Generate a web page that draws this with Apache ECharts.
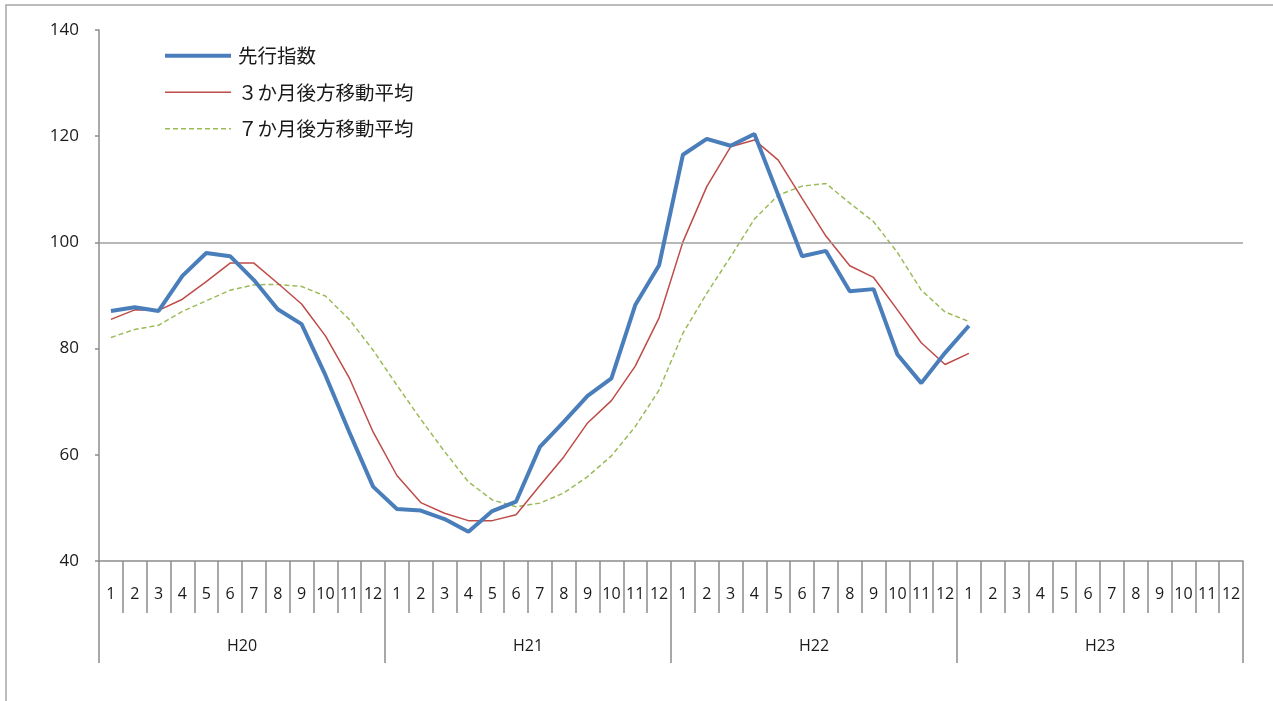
<!DOCTYPE html>
<html><head><meta charset="utf-8">
<script src="https://cdn.jsdelivr.net/npm/echarts@6/dist/echarts.min.js"></script>
<style>html,body{margin:0;padding:0;background:#fff}#c{width:1273px;height:701px}</style>
</head><body><div id="c"></div>
<script>
const months = ['1','2','3','4','5','6','7','8','9','10','11','12'];
const years = ['H20','H21','H22','H23'];
const seriesNames = ['先行指数','３か月後方移動平均','７か月後方移動平均'];
const leading = [87.1,87.8,87.1,93.7,98.0,97.4,92.9,87.4,84.6,75.0,64.3,54.0,
  49.8,49.5,47.9,45.5,49.4,51.2,61.5,66.2,71.1,74.4,88.2,95.7,
  116.5,119.5,118.2,120.4,108.9,97.4,98.4,90.8,91.2,78.9,73.5,79.2,
  84.3];
const ma3 = [85.5,87.3,87.2,89.3,92.6,96.1,96.1,92.3,88.4,82.4,74.5,64.3,
  56.1,51.0,49.0,47.6,47.6,48.7,54.2,59.6,66.0,70.2,76.7,85.8,
  100.1,110.5,118.0,119.3,115.5,108.3,101.2,95.6,93.4,87.3,81.1,77.0,
  79.1];
const ma7 = [82.1,83.6,84.4,87.0,89.0,91.0,92.0,92.1,91.7,89.9,85.5,79.7,
  73.1,66.7,60.6,54.9,51.5,50.2,50.9,52.8,55.9,59.8,65.3,72.2,
  82.9,90.4,97.3,104.4,108.9,110.6,111.1,107.4,103.9,98.1,91.0,86.9,
  85.1];
const yTicks = {min:40, max:140, interval:20};
const refLine = 100;

const cats = [];
years.forEach(y => months.forEach(m => cats.push(y + '-' + m)));
const pad = a => a.concat(new Array(cats.length - a.length).fill(null));

const colors = ['#4a7ebb','#be4b48','#9bbb59'];
const widths = [4,1.5,1.5];
const dashes = ['solid','solid',[5,3]];

const chart = echarts.init(document.getElementById('c'));
const axisGray = '#8c8c8c';
const txt = '#1a1a1a';
chart.setOption({
  animation:false,
  backgroundColor:'#fff',
  graphic:[{type:'rect',shape:{x:6,y:5,width:1400,height:900},style:{fill:'none',stroke:'#a6a6a6',lineWidth:1.5},silent:true}],
  grid:{left:99,right:30,top:30,bottom:140},
  legend:{
    orient:'vertical',left:163,top:46,padding:0,itemWidth:66,itemHeight:14,itemGap:17,
    itemStyle:{opacity:0},
    textStyle:{fontFamily:'Noto Sans CJK JP',fontSize:19.5,color:txt,padding:[0,0,0,2]},
    data:seriesNames.map((n,i)=>({name:n,lineStyle:{width:widths[i],color:colors[i],type:dashes[i]}}))
  },
  xAxis:[{
    type:'category',data:cats,position:'bottom',
    axisLine:{lineStyle:{color:axisGray,width:1.5}},
    axisTick:{show:true,interval:0,length:52,lineStyle:{color:axisGray,width:1.5}},
    axisLabel:{interval:0,margin:25,fontSize:16,color:txt,fontFamily:'Open Sans',
      formatter:v=>v.split('-')[1]}
  },{
    type:'category',data:years,position:'bottom',
    axisLine:{show:false},
    axisTick:{show:true,length:102,lineStyle:{color:axisGray,width:1.5}},
    axisLabel:{margin:77,fontSize:16,color:txt,fontFamily:'Open Sans'}
  }],
  yAxis:{
    type:'value',min:yTicks.min,max:yTicks.max,interval:yTicks.interval,
    splitLine:{show:false},
    axisLine:{show:true,lineStyle:{color:axisGray,width:1.5}},
    axisTick:{show:true,length:4,lineStyle:{color:axisGray,width:1.5}},
    axisLabel:{margin:20,fontSize:17,color:txt,fontFamily:'Open Sans'}
  },
  series:seriesNames.map((n,i)=>{
    const s = {
      name:n,type:'line',data:pad([leading,ma3,ma7][i]),symbol:'none',
      lineStyle:{color:colors[i],width:widths[i],type:dashes[i]},itemStyle:{color:colors[i]},z:5-i
    };
    if(i===0) s.markLine = {silent:true,symbol:'none',label:{show:false},
      lineStyle:{color:'#a0a0a0',type:'solid',width:1.5},data:[{yAxis:refLine}]};
    return s;
  })
});
</script></body></html>
